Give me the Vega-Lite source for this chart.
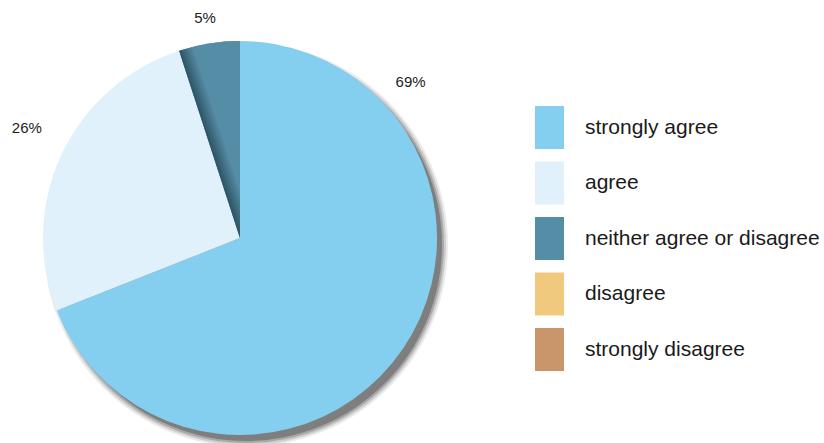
{
  "$schema": "https://vega.github.io/schema/vega-lite/v6.json",
  "width": 480,
  "height": 410,
  "autosize": {"type": "none"},
  "padding": {"left": 0, "top": 33, "right": 344, "bottom": 0},
  "background": "white",
  "config": {
    "view": {"stroke": null},
    "legend": {
      "orient": "none",
      "legendX": 535,
      "legendY": 80,
      "padding": 0,
      "symbolType": "M-1,-1.48L1,-1.48L1,1.48L-1,1.48Z",
      "symbolSize": 841,
      "symbolStrokeWidth": 0,
      "symbolOpacity": 1,
      "labelFontSize": 21,
      "labelFont": "Liberation Sans",
      "labelColor": "#1a1a1a",
      "labelOffset": 21,
      "labelLimit": 400,
      "rowPadding": 12.5
    }
  },
  "data": {
    "values": [
      {"category": "strongly agree", "value": 69, "label": "69%", "rank": 1},
      {"category": "agree", "value": 26, "label": "26%", "rank": 2},
      {"category": "neither agree or disagree", "value": 5, "label": "5%", "rank": 3},
      {"category": "disagree", "value": 0, "label": "", "rank": 4},
      {"category": "strongly disagree", "value": 0, "label": "", "rank": 5}
    ]
  },
  "layer": [
    {
      "transform": [{"filter": "datum.rank == 1"}],
      "mark": {"type": "arc", "theta": 0, "theta2": 6.2832, "outerRadius": 202, "x": {"expr": "width/2+6"}, "y": {"expr": "height/2+7"}, "color": "#000000", "opacity": 0.08}
    },
    {
      "transform": [{"filter": "datum.rank == 1"}],
      "mark": {"type": "arc", "theta": 0, "theta2": 6.2832, "outerRadius": 200, "x": {"expr": "width/2+6"}, "y": {"expr": "height/2+7"}, "color": "#000000", "opacity": 0.12}
    },
    {
      "transform": [{"filter": "datum.rank == 1"}],
      "mark": {"type": "arc", "theta": 0, "theta2": 6.2832, "outerRadius": 198, "x": {"expr": "width/2+6"}, "y": {"expr": "height/2+7"}, "color": "#000000", "opacity": 0.18}
    },
    {
      "transform": [{"filter": "datum.rank == 1"}],
      "mark": {"type": "arc", "theta": 0, "theta2": 6.2832, "outerRadius": 196, "x": {"expr": "width/2+6"}, "y": {"expr": "height/2+7"}, "color": "#000000", "opacity": 0.25}
    },
    {
      "mark": {"type": "arc", "outerRadius": 197, "strokeWidth": 0},
      "encoding": {
        "theta": {"field": "value", "type": "quantitative", "stack": true},
        "order": {"field": "rank", "type": "quantitative"},
        "color": {
          "field": "category",
          "type": "nominal",
          "title": null,
          "scale": {
            "domain": ["strongly agree", "agree", "neither agree or disagree", "disagree", "strongly disagree"],
            "range": ["#84CFEF", "#E0F1FB", "#568DA6", "#F0C87E", "#C9966B"]
          }
        }
      }
    },
    {
      "mark": {
        "type": "arc",
        "outerRadius": 197,
        "strokeWidth": 0,
        "fill": {
          "gradient": "linear",
          "x1": 0.5, "y1": 0.528, "x2": 0.623, "y2": 0.398,
          "stops": [
            {"offset": 0, "color": "#2C5264"},
            {"offset": 1, "color": "#568DA6"}
          ]
        }
      },
      "encoding": {
        "theta": {"field": "value", "type": "quantitative", "stack": true},
        "order": {"field": "rank", "type": "quantitative"},
        "opacity": {"condition": {"test": "datum.category === 'neither agree or disagree'", "value": 1}, "value": 0}
      }
    },
    {
      "mark": {"type": "text", "radius": 240, "thetaOffset": 0.038, "fontSize": 15, "font": "Liberation Sans", "color": "#222222"},
      "encoding": {
        "theta": {"field": "value", "type": "quantitative", "stack": true},
        "order": {"field": "rank", "type": "quantitative"},
        "text": {"condition": {"test": "datum.category === 'agree'", "field": "label"}, "value": ""}
      }
    },
    {
      "mark": {"type": "text", "radius": 223, "fontSize": 15, "font": "Liberation Sans", "color": "#222222"},
      "encoding": {
        "theta": {"field": "value", "type": "quantitative", "stack": true},
        "order": {"field": "rank", "type": "quantitative"},
        "text": {"condition": {"test": "datum.category === 'neither agree or disagree'", "field": "label"}, "value": ""}
      }
    },
    {
      "mark": {"type": "text", "radius": 231, "thetaOffset": -1.337, "fontSize": 15, "font": "Liberation Sans", "color": "#222222"},
      "encoding": {
        "theta": {"field": "value", "type": "quantitative", "stack": true},
        "order": {"field": "rank", "type": "quantitative"},
        "text": {"condition": {"test": "datum.category === 'strongly agree'", "field": "label"}, "value": ""}
      }
    }
  ]
}
